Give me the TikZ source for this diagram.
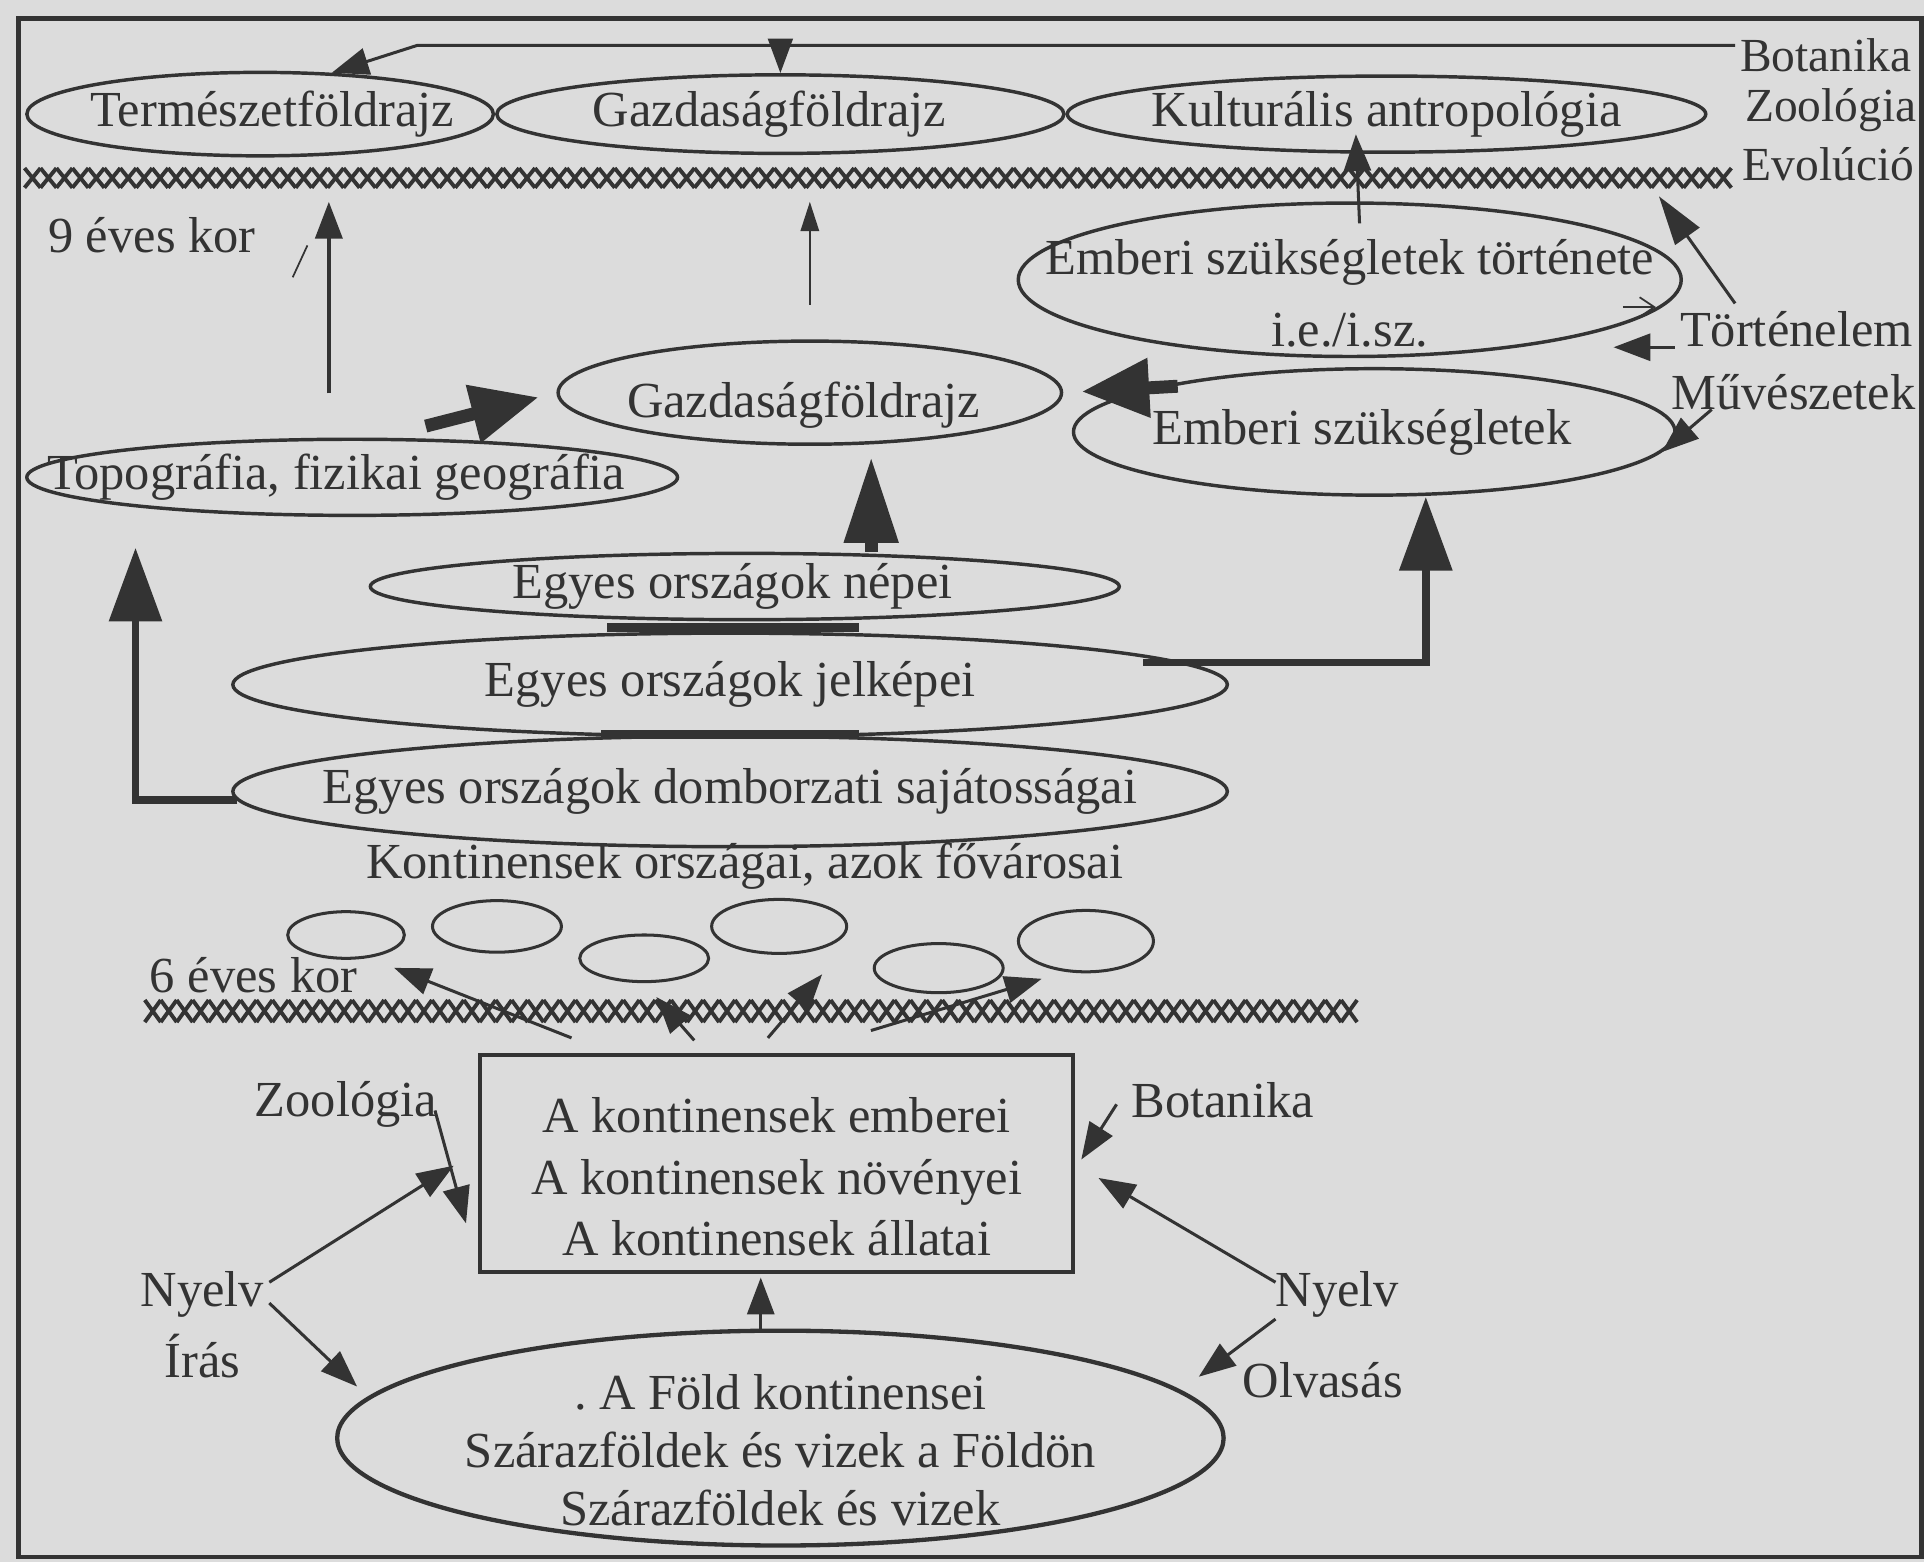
\documentclass[tikz,border=0pt]{standalone}
\usepackage{fontspec}
\setmainfont{Liberation Serif}
\usepackage{tikz}
\usetikzlibrary{shapes.geometric, arrows.meta, positioning, calc}
\definecolor{Paper}{HTML}{DCDCDC}
\definecolor{Ink}{HTML}{333333}
\tikzset{
  oval/.style={ellipse, draw=Ink, line width=0.8pt, inner sep=0pt},
  lbl/.style={text=Ink, inner sep=1pt, font=\fontsize{11.7}{14.2}\selectfont},
  arr/.style={draw=Ink, line width=0.7pt, -{Triangle[length=3mm,width=2.2mm]}},
  fat/.style={draw=Ink, line width=3pt, -{Triangle[length=5.5mm,width=4.6mm]}},
  elbow/.style={draw=Ink, line width=1.8pt, -{Triangle[length=6mm,width=4.2mm]}},
  hatch/.style={draw=Ink, line width=0.9pt}
}

\begin{document}
\begin{tikzpicture}[x=0.01cm, y=-0.01cm]
    \useasboundingbox (0,0) rectangle (1568,1273);
    \fill[Paper] (0,0) rectangle (1568,1273);
    \draw[Ink, line width=1pt] (15,15) rectangle (1566,1269);

    % Top row (9 year band)
    \node[oval, minimum width=3.8cm, minimum height=6.8mm,
          label={[lbl, xshift=1mm]center:Természetföldrajz}] (termfold) at (212,93) {};
    \node[oval, minimum width=4.62cm, minimum height=6.4mm,
          label={[lbl, xshift=-0.9mm]center:Gazdaságföldrajz}] (gazdtop) at (636,93) {};
    \node[oval, minimum width=5.2cm, minimum height=6.2mm,
          label={[lbl]center:Kulturális antropológia}] (kultant) at (1130,93) {};

    \node[lbl, anchor=west, font=\fontsize{11}{13}\selectfont] (bot1) at (1414,45) {Botanika};
    \node[lbl, anchor=west, font=\fontsize{11}{13}\selectfont] (zoo1) at (1418,90) {Zoológia};
    \node[lbl, anchor=west, font=\fontsize{11}{13}\selectfont] (evo1) at (1416,134) {Evolúció};

    \foreach \x in {20,33,...,1402}
        \draw[hatch] (\x,137) -- ++(13,16) (\x,153) -- ++(13,-16);

    \node[lbl, anchor=west] (age9) at (35,192) {9 éves kor};
    \draw[Ink, line width=0.4pt] ($(age9.east)+(38,8)$) -- ++(-12,26);

    % Feedback line from the right
    \coordinate (topr) at ([yshift=0.8mm]bot1.west);
    \draw[arr] (topr) -- (340,37) -- (termfold.30);
    \draw[arr, -{Triangle[length=2.8mm,width=2mm]}] (gazdtop.north |- topr) -- (gazdtop.north);

    % Middle ellipses
    \node[oval, minimum width=5.4cm, minimum height=12.5mm,
          label={[lbl, align=center, yshift=-1.1mm]center:{Emberi szükségletek története\\[0.8mm]i.e./i.sz.}}] (ebtort) at (1100,228) {};
    \node[oval, minimum width=4.9cm, minimum height=10.3mm,
          label={[lbl, xshift=-1mm]center:Emberi szükségletek}] (embszuk) at (1120,352) {};
    \node[oval, minimum width=4.1cm, minimum height=8.4mm,
          label={[lbl, xshift=-0.5mm, yshift=-1mm]center:Gazdaságföldrajz}] (gazdmid) at (660,320) {};
    \node[oval, minimum width=5.3cm, minimum height=6.2mm,
          label={[lbl, xshift=-1.3mm]center:Topográfia, fizikai geográfia}] (topo) at (287,389) {};

    \node[lbl, anchor=west] (tort) at (1365,268) {Történelem};
    \node[lbl, anchor=west] (muvesz) at (1358,320) {Művészetek};

    \node[oval, minimum width=6.1cm, minimum height=5.4mm,
          label={[lbl, xshift=-1mm]center:Egyes országok népei}] (nepei) at (607,478) {};
    \node[oval, minimum width=8.1cm, minimum height=8.4mm,
          label={[lbl]center:Egyes országok jelképei}] (jelk) at (595,558) {};
    \node[oval, minimum width=8.1cm, minimum height=9mm,
          label={[lbl]center:Egyes országok domborzati sajátosságai}] (domb) at (595,645) {};
    \draw[Ink, line width=2pt] ($(nepei.south)+(-112,5)$) -- ($(nepei.south)+(93,5)$);
    \draw[Ink, line width=2pt] ($(domb.north)+(-105,0)$) -- ($(domb.north)+(105,0)$);

    % Arrows upward
    \draw[arr, line width=0.9pt, shorten <=3.6mm, shorten >=3.6mm]
        ($(topo.north)+(-19,0)$) -- ($(topo.north |- termfold.south)+(-19,0)$);
    \draw[arr, line width=0.5pt, -{Triangle[length=2.4mm,width=1.5mm]}, shorten <=2.8mm, shorten >=3.8mm]
        (gazdmid.north) -- (gazdmid.north |- gazdtop.south);
    \draw[arr] ($(ebtort.north)+(8,18)$) -- ($(ebtort.north |- kultant.south)+(5,-16)$);

    \coordinate (histtip) at (1352,160);
    \coordinate (torttip) at (1315,283);
    \draw[arr, -{Triangle[length=4mm,width=2.4mm]}] ($(tort.north)+(-50,-2)$) -- (histtip);
    \draw[arr] ($(tort.west)+(0,15)$) -- (torttip);
    \draw[Ink, line width=0.4pt, -{Straight Barb[length=1.2mm,width=1.6mm]}, shorten >=0.5mm]
        ($(ebtort.-5)+(-32,0)$) -- (ebtort.-5);
    \draw[arr] ($(muvesz.south west)+(37,-5)$) -- (embszuk.-4);

    \draw[fat, shorten >=1.5mm] ($(embszuk.168)+(15,0)$) -- (gazdmid.east);
    \draw[fat, shorten >=1.5mm] ($(topo.30)+(5,-10)$) -- (gazdmid.west);
    \draw[fat, -{Triangle[length=7mm,width=4.2mm]}, shorten >=0.9mm]
        ($(nepei.north)+(103,0)$) -- ($(gazdmid.south)+(50,0)$);

    \draw[elbow, shorten >=2.5mm] ($(domb.west)+(5,7)$) -| ($(topo.west |- topo.south)+(90,0)$);
    \draw[elbow] ($(jelk.east)+(-70,-18)$) -| ($(embszuk.south)+(42,0)$);

    % 6 year band
    \node[lbl] (orszag) at (607,706) {Kontinensek országai, azok fővárosai};
    \foreach \i/\px/\py/\w/\h in {1/282/762/9.5/3.8, 2/405/755/10.5/4.2, 3/525/781/10.5/3.8,
                                  4/635/755/11/4.4, 5/765/789/10.5/4, 6/885/767/11/5}
        \node[oval, line width=0.7pt, minimum width=\w mm, minimum height=\h mm] (s\i) at (\px,\py) {};

    \node[lbl, anchor=west] (age6) at (118,795) {6 éves kor};
    \foreach \x in {118,131,...,1095}
        \draw[hatch] (\x,815) -- ++(13,18) (\x,833) -- ++(13,-18);

    \node[draw=Ink, line width=0.9pt, minimum width=4.83cm, minimum height=1.77cm, inner sep=0pt,
          label={[lbl, align=center, yshift=-1.1mm]center:{A kontinensek emberei\\A kontinensek növényei\\A kontinensek állatai}}] (kontbox) at (633,948) {};

    \draw[arr, shorten >=2.2mm] ($(kontbox.north west)+(76,-12)$) -- (s1.-45);
    \draw[arr, shorten >=1.5mm] ($(kontbox.north west)+(176,-10)$) -- (s3.south);
    \draw[arr, shorten >=0.5mm] ($(kontbox.north west)+(236,-12)$) -- ($(s4.east |- s4.south)+(-18,12)$);
    \draw[arr, shorten >=0.5mm] ($(kontbox.north west)+(320,-18)$) -- ($(s6.west |- s6.south)+(25,3)$);

    % Side subjects
    \node[lbl] (zoo2) at (282,900) {Zoológia};
    \node[lbl, anchor=west] (bot2) at (918,897) {Botanika};
    \node[lbl] (nyelv1) at (165,1055) {Nyelv};
    \node[lbl] (iras) at (165,1105) {Írás};
    \node[lbl] (nyelv2) at (1090,1055) {Nyelv};
    \node[lbl] (olvas) at (1078,1125) {Olvasás};

    \node[oval, line width=1pt, minimum width=7.22cm, minimum height=17.5mm,
          label={[lbl, align=center, yshift=-1mm, font=\fontsize{11.7}{13.4}\selectfont]center:{.\ A Föld kontinensei\\Szárazföldek és vizek a Földön\\Szárazföldek és vizek}}] (fold) at (636,1172) {};

    \draw[arr] ($(zoo2.east)+(-6,5)$) -- ($(kontbox.west)+(-10,49)$);
    \draw[arr] ($(bot2.west)+(-8,3)$) -- ($(kontbox.east)+(5,-3)$);
    \draw[arr] ($(nyelv1.east)+(0,-10)$) -- ($(kontbox.west)+(-20,2)$);
    \draw[arr] ($(nyelv1.east)+(0,7)$) -- ($(fold.west)+(18,-42)$);
    \draw[arr] ($(nyelv2.west)+(4,-10)$) -- ($(kontbox.east)+(19,12)$);
    \draw[arr] ($(nyelv2.west)+(4,20)$) -- ($(fold.east)+(-22,-50)$);
    \draw[arr] ($(fold.north)+(-16,0)$) -- ($(kontbox.south)+(-13,3)$);
\end{tikzpicture}
\end{document}
